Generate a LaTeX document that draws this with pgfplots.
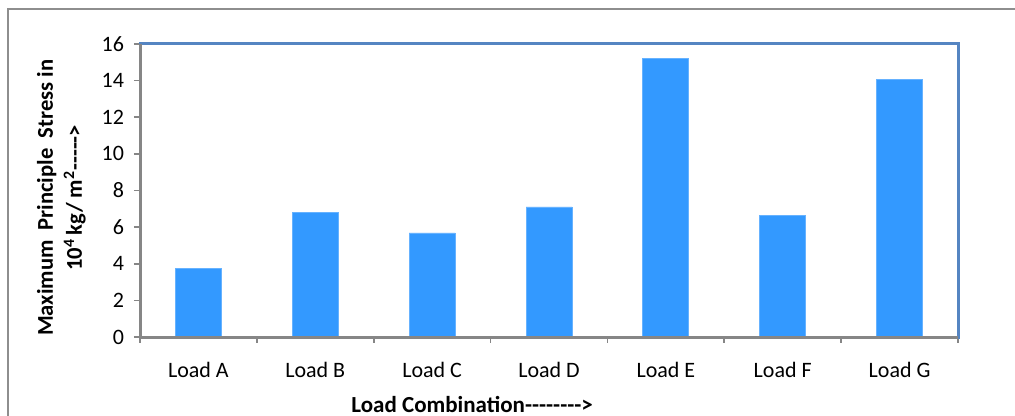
\documentclass[border=0pt]{standalone}
\usepackage{fontspec}
\setmainfont{Carlito}[Ligatures=TeXOff]
\usepackage{pgfplots}
\pgfplotsset{compat=1.18}

\definecolor{barblue}{HTML}{3399FF}
\definecolor{baredge}{HTML}{66B2FF}
\definecolor{frameblue}{HTML}{5585C2}
\definecolor{axisgray}{HTML}{868686}
\definecolor{outergray}{HTML}{8E8E8E}

\begin{document}
\begin{tikzpicture}
\useasboundingbox (0,0) rectangle (507.5bp,208bp);
% outer chart-area border (top and left edges)
\draw[outergray, line width=1.2bp] (4bp,0) -- (4bp,203.5bp) -- (507.5bp,203.5bp);
\begin{axis}[
  at={(70bp,39.5bp)}, anchor=south west,
  scale only axis,
  width=409bp, height=146.5bp,
  ymin=0, ymax=16,
  ytick={0,2,...,16},
  xmin=-0.5, xmax=6.5,
  xtick={0,...,6},
  xticklabels={Load A,Load B,Load C,Load D,Load E,Load F,Load G},
  minor xtick={-0.5,0.5,...,6.5},
  major x tick style={draw=none},
  minor tick length=3bp,
  major tick length=3bp,
  xtick pos=bottom, ytick pos=left,
  tick align=outside,
  tick style={axisgray, line width=0.8bp},
  axis line style={frameblue, line width=1.5bp},
  font=\fontsize{11bp}{13bp}\selectfont,
  /pgf/number format/assume math mode=true,
  yticklabel style={xshift=-1.5bp},
  xticklabel style={yshift=-6bp},
  ylabel={\bfseries Maximum\ \ Principle\ \ Stress in\\\bfseries 10\textsuperscript{4}\,kg/ m\textsuperscript{2}----->},
  ylabel style={align=center, at={(axis description cs:-0.096,0.475)}, anchor=center, font=\fontsize{11.3bp}{14.5bp}\selectfont},
  xlabel={\bfseries Load Combination-------->},
  xlabel style={at={(axis description cs:0.406,-0.232)}, anchor=center, font=\fontsize{11.5bp}{13bp}\selectfont},
  ybar, bar width=23bp,
  clip=false,
]
\addplot[fill=barblue, draw=baredge, line width=0.4bp] coordinates {
  (0,3.75) (1,6.81) (2,5.68) (3,7.10) (4,15.20) (5,6.65) (6,14.08)
};
% gray axis lines on the left and bottom
\draw[axisgray, line width=1.5bp] (rel axis cs:0,1) -- (rel axis cs:0,0) -- (rel axis cs:1,0);
\end{axis}
\end{tikzpicture}
\end{document}
